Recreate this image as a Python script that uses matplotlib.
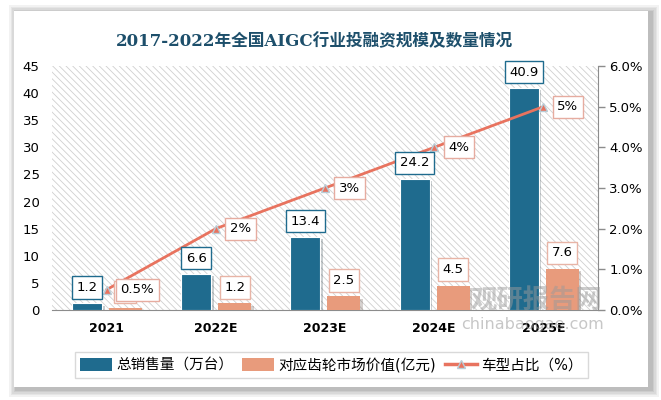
import matplotlib.pyplot as plt
import matplotlib.patheffects as pe
from matplotlib.patches import Rectangle, Patch
from matplotlib.lines import Line2D
import numpy as np

plt.rcParams['font.family'] = ['DejaVu Sans', 'Noto Sans CJK SC']
plt.rcParams['hatch.linewidth'] = 0.6

years = ['2021', '2022E', '2023E', '2024E', '2025E']
sales = [1.2, 6.6, 13.4, 24.2, 40.9]
gear_value = [0.4, 1.2, 2.5, 4.5, 7.6]
share = [0.5, 2, 3, 4, 5]
share_labels = ['0.5%', '2%', '3%', '4%', '5%']

blue = '#1f6b8e'
orange = '#e89b7c'
red = '#e8735f'

fig = plt.figure(figsize=(6.61, 4.0), dpi=100)
W, H = 661, 400

# card with soft shadow
for i, a in enumerate([0.05, 0.05, 0.05, 0.06, 0.07]):
    g = 8 - i * 1.6
    fig.patches.append(Rectangle(((14 - g + 3) / W, 1 - (387 + g + 2) / H),
                                 (634 + 2 * g) / W, (376 + 2 * g) / H,
                                 transform=fig.transFigure, facecolor='black',
                                 edgecolor='none', alpha=a, zorder=0))
fig.patches.append(Rectangle((14 / W, 1 - 387 / H), 634 / W, 376 / H,
                             transform=fig.transFigure, facecolor='white',
                             edgecolor='none', zorder=1))

ax = fig.add_axes([52 / W, 1 - 310 / H, 546 / W, 244 / H])
ax.set_zorder(2)
ax.patch.set_alpha(0)
ax.add_patch(Rectangle((0, 0), 1, 1, transform=ax.transAxes, facecolor='white',
                       edgecolor='#d0d0d0', hatch='\\\\\\\\\\', linewidth=0, zorder=0))

x = np.arange(len(years))
shadow = [pe.SimplePatchShadow(offset=(1.8, -1.5), alpha=0.22), pe.Normal()]
b1 = ax.bar(x - 0.317, sales, 0.275, align='edge', color=blue, edgecolor='white',
            linewidth=0.8, zorder=3)
b2 = ax.bar(x + 0.022, gear_value, 0.303, align='edge', color=orange,
            edgecolor='none', zorder=3)
for b in list(b1) + list(b2):
    b.set_path_effects(shadow)

ax.set_xlim(-0.5, 4.5)
ax.set_ylim(0, 45)
ax.set_yticks(range(0, 46, 5))
ax.set_xticks(x)
ax.set_xticklabels(years, fontsize=9, fontweight='semibold')
ax.tick_params(axis='x', length=0, pad=9)
ax.tick_params(axis='y', length=0, pad=9, labelsize=9.5)
for s in ['top', 'left', 'right']:
    ax.spines[s].set_visible(False)
ax.spines['bottom'].set_color('#8c8c8c')

ax2 = ax.twinx()
ax2.set_ylim(0, 6)
ax2.set_yticks(range(0, 7))
ax2.set_yticklabels([f'{v:.1f}%' for v in range(0, 7)], fontsize=9.5)
ax2.tick_params(axis='y', length=5, width=1, color='#8c8c8c', pad=3)
for s in ['top', 'left', 'bottom']:
    ax2.spines[s].set_visible(False)
ax2.spines['right'].set_color('#8c8c8c')
ax2.plot(x, share, color=red, linewidth=2, marker='^', markersize=6,
         markerfacecolor=red, markeredgecolor='#b8ccd6', markeredgewidth=1, zorder=4)

box_kw = dict(boxstyle='square,pad=0.35', facecolor='white')
for i in range(len(years)):
    ax2.annotate(f'{sales[i]}', (x[i] - 0.18, sales[i]), xycoords=ax.transData,
                 xytext=(0, 16), textcoords='offset pixels', ha='center', va='center',
                 fontsize=9.5, bbox=dict(box_kw, edgecolor=blue, linewidth=1), zorder=5)
    # the 2021 value is covered by the share label in the reference
    txt = '   ' if i == 0 else f'{gear_value[i]}'
    ax2.annotate(txt, (x[i] + 0.173, gear_value[i]), xycoords=ax.transData,
                 xytext=(0, 16), textcoords='offset pixels', ha='center', va='center',
                 fontsize=9.5, bbox=dict(box_kw, edgecolor='#e8b4a6', linewidth=1), zorder=5)
for i in range(len(years)):
    ax2.annotate(share_labels[i], (x[i], share[i]), xytext=(14, 0),
                 textcoords='offset pixels', ha='left', va='center', fontsize=9.5,
                 bbox=dict(box_kw, edgecolor='#e6aca0', linewidth=1), zorder=6)

# watermark
fig.text(536 / W, 1 - 301 / H, '观研报告网', fontsize=19, fontweight='bold',
         color='#9a9a9a', alpha=0.5, ha='center', va='center', zorder=10,
         family=['Noto Sans CJK SC'])
fig.text(533 / W, 1 - 325 / H, 'chinabaogae.com', fontsize=11.5,
         color='#9a9a9a', alpha=0.55, ha='center', va='center', zorder=10)

fig.text(314 / W, 1 - 42 / H, '2017-2022年全国AIGC行业投融资规模及数量情况',
         fontsize=12, fontweight='bold', color='#1d4f6b', ha='center', va='center',
         family=['DejaVu Serif', 'Noto Sans CJK SC'], zorder=5)

handles = [Patch(facecolor=blue), Patch(facecolor=orange),
           Line2D([], [], color=red, linewidth=2.5, marker='^', markersize=6,
                  markerfacecolor=red, markeredgecolor='#b8ccd6')]
labels = ['总销售量（万台）', '对应齿轮市场价值(亿元)', '车型占比（%）']
leg = fig.legend(handles, labels, loc='center', bbox_to_anchor=(331.5 / W, 1 - 365 / H),
                 ncol=3, fontsize=10.5, frameon=True, fancybox=False, edgecolor='#d0d0d0',
                 handlelength=2.2, handleheight=0.9, handletextpad=0.3, columnspacing=0.6,
                 borderpad=0.35)
leg.get_frame().set_linewidth(1)
leg.set_zorder(5)

fig.savefig('out.png', dpi=100)
